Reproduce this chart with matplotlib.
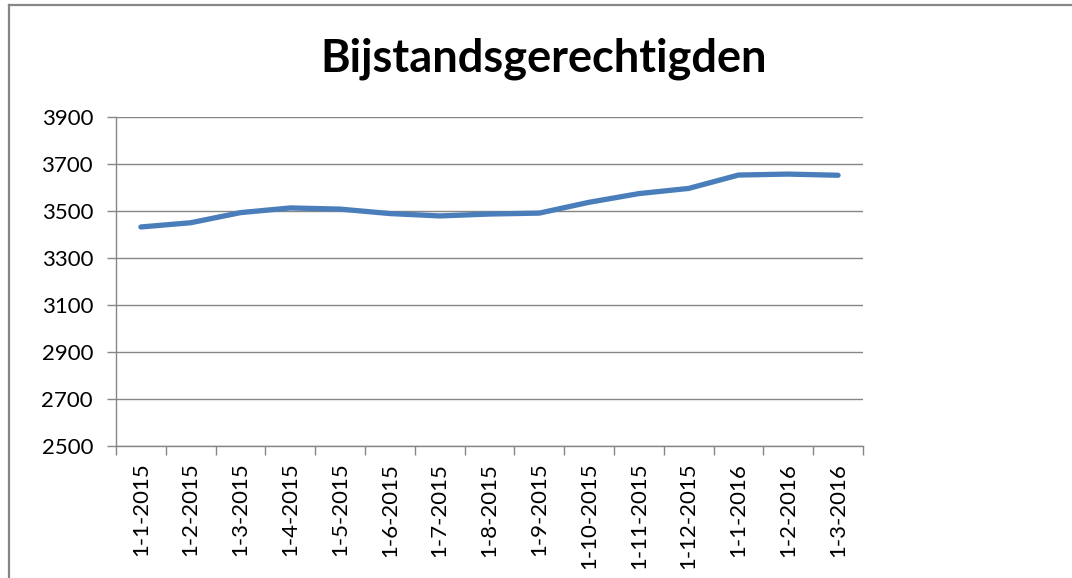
import matplotlib
matplotlib.use('Agg')
import matplotlib.pyplot as plt
from matplotlib.lines import Line2D

# data
dates = ['1-1-2015', '1-2-2015', '1-3-2015', '1-4-2015', '1-5-2015',
         '1-6-2015', '1-7-2015', '1-8-2015', '1-9-2015', '1-10-2015',
         '1-11-2015', '1-12-2015', '1-1-2016', '1-2-2016', '1-3-2016']
aantal = [3432, 3450, 3493, 3513, 3508,
          3489, 3479, 3487, 3491, 3537,
          3574, 3596, 3653, 3657, 3652]
y_ticks = [2500, 2700, 2900, 3100, 3300, 3500, 3700, 3900]

plt.rcParams['font.family'] = ['Lato', 'DejaVu Sans']
grijs = '#868686'

fig = plt.figure(figsize=(10.72, 5.78), dpi=100)
ax = fig.add_axes([0.1082, 0.2284, 0.805 - 0.1082, 0.7976 - 0.2284])

x = range(len(dates))
ax.plot(x, aantal, color='#4a7ebb', linewidth=3.8,
        solid_joinstyle='round', solid_capstyle='round')

ax.set_xlim(-0.5, len(dates) - 0.5)
ax.set_ylim(2500, 3900)
ax.set_yticks(y_ticks)
ax.set_xticks(list(x))
ax.set_xticklabels(dates, rotation=90)
# tickjes tussen de categorieen, zoals in Excel
ax.set_xticks([i - 0.5 for i in range(len(dates) + 1)], minor=True)
ax.tick_params(axis='x', which='major', length=0, pad=12, labelsize=16)
ax.tick_params(axis='x', which='minor', length=6.5, width=1, color=grijs)
ax.tick_params(axis='y', length=6.5, width=1, color=grijs, pad=10,
               labelsize=16)

ax.grid(axis='y', color=grijs, linewidth=1)
ax.set_axisbelow(True)
for s in ['top', 'right']:
    ax.spines[s].set_visible(False)
for s in ['left', 'bottom']:
    ax.spines[s].set_color(grijs)
    ax.spines[s].set_linewidth(1)

fig.text(0.507, 1 - 72 / 578, 'Bijstandsgerechtigden', ha='center',
         va='baseline', fontsize=32.5, fontweight='bold')

# rand van het grafiekgebied
fig.add_artist(Line2D([9 / 1072, 1], [1 - 5 / 578, 1 - 5 / 578],
                      color=grijs, linewidth=1.6))
fig.add_artist(Line2D([9 / 1072, 9 / 1072], [0, 1 - 5 / 578],
                      color=grijs, linewidth=1.6))

plt.savefig('out.png', dpi=100)
plt.close()
